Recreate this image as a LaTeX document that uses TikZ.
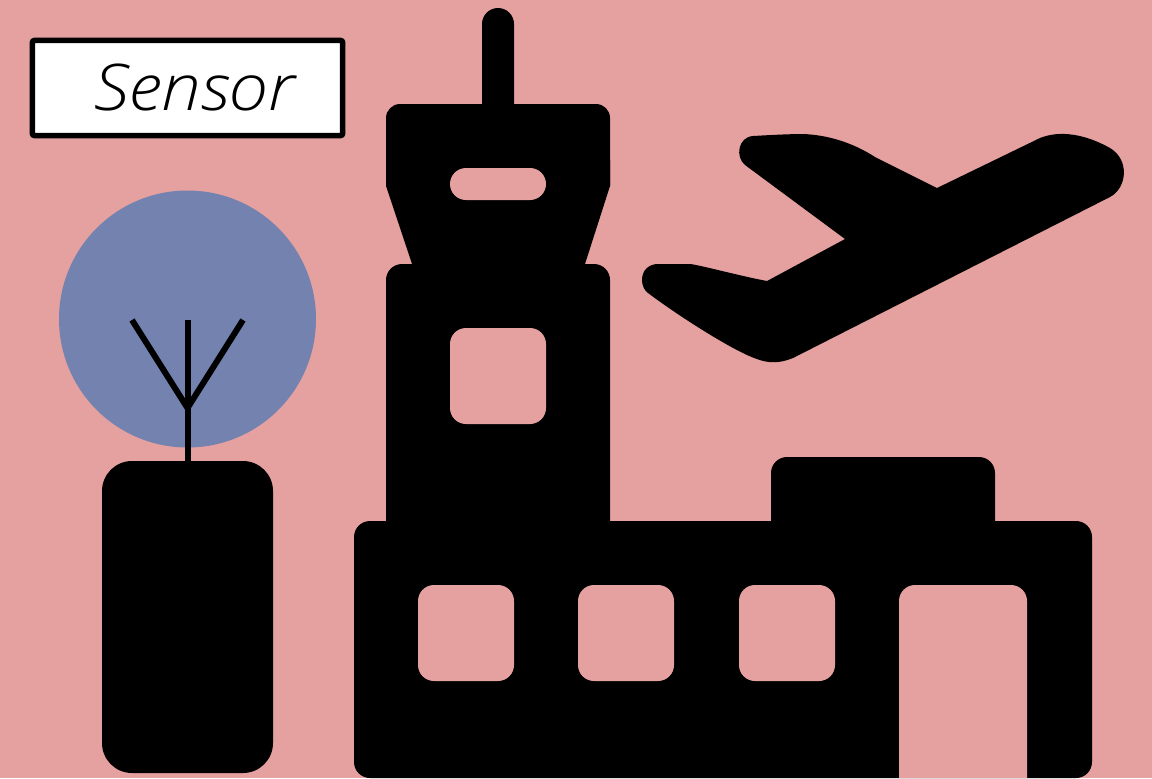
\documentclass[tikz,border=0pt]{standalone}
\usepackage{fontspec}
\setmainfont{Open Sans}[UprightFont=* Light, ItalicFont=* Light Italic, FakeStretch=1.1]
\definecolor{wallpink}{RGB}{229, 161, 160}
\definecolor{domeblue}{RGB}{116, 130, 175}
\tikzset{
  solidpart/.style={fill=black, rounded corners=0.16cm},
  holepart/.style={fill=wallpink, rounded corners=0.16cm},
  mastline/.style={draw=black, line width=0.06cm},
  labelbox/.style={draw=black, fill=white, line width=0.055cm, rounded corners=0.02cm,
    minimum width=3.10cm, minimum height=0.95cm, inner sep=0pt}
}
\begin{document}
\begin{tikzpicture}[x=0.01cm, y=-0.01cm]
        \fill[wallpink] (0,0) rectangle (1152,778);

        % Label
        \node[labelbox] (sensorlabel) at (187.5,88) {\hspace{0.14cm}\fontsize{18.3pt}{21pt}\selectfont\itshape Sensor};

        % Sensor with antenna
        \fill[domeblue] (187.5,319) circle (128.5);
        \fill[black, rounded corners=0.30cm] (102,461) rectangle (273,773);
        \coordinate (mastbase) at (187.5,461);
        \coordinate (mastfork) at (187.5,408);
        \draw[mastline] (mastbase) -- (187.5,320);
        \draw[mastline] (132,320) -- (mastfork) -- (243,320);

        % Tower
        \fill[black] (482,130) -- (482,24) arc[start angle=180, end angle=0, x radius=16, y radius=-16] -- (514,130) -- cycle;
        \fill[black, rounded corners=0.14cm] (386,186) -- (386,104) -- (610,104) -- (610,186);
        \fill[black] (386,160) -- (610,160) -- (610,186) -- (585,264) -- (585,270) -- (412,270) -- (412,264) -- (386,186) -- cycle;
        \fill[solidpart] (386,264) -- (610,264) -- (610,540) -- (386,540) -- cycle;
        \fill[holepart] (450,168) rectangle (546,200);
        \fill[holepart] (450,328) rectangle (546,424);

        % Terminal building
        \fill[solidpart] (771,457) -- (995,457) -- (995,540) -- (771,540) -- cycle;
        \fill[solidpart] (354,521) -- (1092,521) -- (1092,778) -- (354,778) -- cycle;
        \foreach \winx in {418,578,739} {
          \fill[holepart] (\winx,585) rectangle (\winx+96,681);
        }
        \fill[wallpink] (899,778) [rounded corners=0.16cm] -- (899,585) -- (1027,585) [sharp corners] -- (1027,778) -- cycle;

        % Plane
        \fill[black] (642,280) .. controls (642,270) and (649,264) .. (658,264)
          -- (690,264) .. controls (700,265) and (740,276) .. (767,281)
          -- (845,239) -- (745,165) .. controls (735,157) and (738,137) .. (753,136)
          .. controls (770,135) and (790,134) .. (803,134)
          .. controls (830,135) and (855,144) .. (875,157)
          -- (937,188) -- (1040,138) .. controls (1060,130) and (1085,134) .. (1110,148)
          .. controls (1130,160) and (1127,188) .. (1110,197)
          -- (793,358) .. controls (775,365) and (765,363) .. (747,355)
          .. controls (725,345) and (680,317) .. (648,293)
          .. controls (644,290) and (642,285) .. (642,280) -- cycle;
      \end{tikzpicture}
\end{document}
